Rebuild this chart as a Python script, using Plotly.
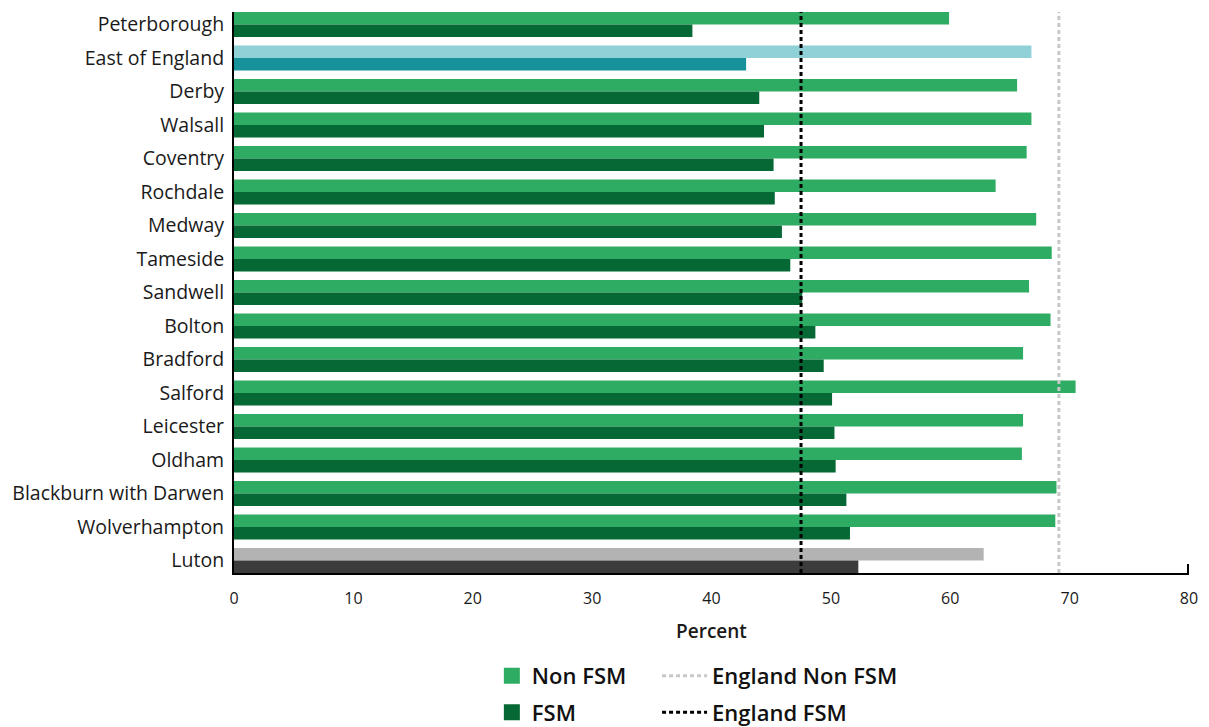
import plotly.graph_objects as go

categories = ["Peterborough", "East of England", "Derby", "Walsall", "Coventry", "Rochdale",
              "Medway", "Tameside", "Sandwell", "Bolton", "Bradford", "Salford", "Leicester",
              "Oldham", "Blackburn with Darwen", "Wolverhampton", "Luton"]
non_fsm = [59.9, 66.8, 65.6, 66.8, 66.4, 63.8, 67.2, 68.5, 66.6, 68.4, 66.1, 70.5, 66.1,
           66.0, 68.9, 68.8, 62.8]
fsm = [38.4, 42.9, 44.0, 44.4, 45.2, 45.3, 45.9, 46.6, 47.6, 48.7, 49.4, 50.1, 50.3,
       50.4, 51.3, 51.6, 52.3]
england_non_fsm = 69.1
england_fsm = 47.5
x_ticks = [0, 10, 20, 30, 40, 50, 60, 70, 80]

C_NON = "#2FAC63"
C_FSM = "#056835"
highlight_non = {"East of England": "#90D1D8", "Luton": "#B3B3B3"}
highlight_fsm = {"East of England": "#17919A", "Luton": "#3C3C3C"}

non_colors = [highlight_non.get(c, C_NON) for c in categories]
fsm_colors = [highlight_fsm.get(c, C_FSM) for c in categories]

FONT = "Open Sans"
TXT = "#1a1a1a"
fig = go.Figure()
fig.add_trace(go.Bar(y=categories, x=non_fsm, orientation="h", name="Non FSM",
                     marker=dict(color=non_colors, line=dict(width=0)), showlegend=False))
fig.add_trace(go.Bar(y=categories, x=fsm, orientation="h", name="FSM",
                     marker=dict(color=fsm_colors, line=dict(width=0)), showlegend=False))

# England reference lines on an overlay axis
fig.add_trace(go.Scatter(x=[england_non_fsm, england_non_fsm], y=[0, 1], yaxis="y2",
                         mode="lines", name="England Non FSM",
                         line=dict(color="#C8C8C8", width=3, dash="4px,3px"),
                         legend="legend2", legendgroup="a"))
fig.add_trace(go.Scatter(x=[england_fsm, england_fsm], y=[0, 1], yaxis="y2",
                         mode="lines", name="England FSM",
                         line=dict(color="#000000", width=3, dash="4px,3px"),
                         legend="legend2", legendgroup="b"))

# legend swatches
fig.add_trace(go.Scatter(x=[None], y=[None], mode="markers", name="Non FSM",
                         marker=dict(symbol="square", size=22, color=C_NON),
                         legend="legend", legendgroup="c"))
fig.add_trace(go.Scatter(x=[None], y=[None], mode="markers", name="FSM",
                         marker=dict(symbol="square", size=22, color=C_FSM),
                         legend="legend", legendgroup="d"))

legend_font = dict(size=22, family=FONT, color="#111", weight=600)
fig.update_layout(
    width=1209, height=727,
    margin=dict(l=234, r=20, t=12, b=154, autoexpand=False),
    paper_bgcolor="white", plot_bgcolor="white",
    barmode="group", bargap=0.254, bargroupgap=0,
    font=dict(family=FONT, color=TXT, size=16),
    xaxis=dict(range=[0, 80], tickvals=x_ticks,
               showgrid=False, zeroline=False, showline=True, linecolor="black", linewidth=2,
               ticks="", ticklabelstandoff=10, tickfont=dict(size=16, family=FONT, color=TXT),
               minor=dict(tickvals=[79.93], ticks="inside", ticklen=9, tickwidth=2,
                          tickcolor="black", showgrid=False),
               title=dict(text="Percent", font=dict(size=19, family=FONT, color=TXT, weight=600),
                          standoff=16)),
    yaxis=dict(categoryorder="array", categoryarray=categories,
               range=[16.373, -0.373], showgrid=False, zeroline=False,
               showline=True, linecolor="black", linewidth=2, ticks="",
               ticklabelstandoff=4,
               tickfont=dict(size=19.5, family=FONT, color=TXT)),
    yaxis2=dict(overlaying="y", range=[0, 1], visible=False, fixedrange=True),
    legend=dict(x=0.27, y=-0.146, xanchor="left", yanchor="top", orientation="v",
                font=legend_font, tracegroupgap=5,
                itemsizing="trace", bgcolor="rgba(0,0,0,0)"),
    legend2=dict(x=0.443, y=-0.146, xanchor="left", yanchor="top", orientation="v",
                 font=legend_font, tracegroupgap=5,
                 itemwidth=45, bgcolor="rgba(0,0,0,0)"),
)

fig.write_html("out.html", config={"displayModeBar": False},
               post_script="document.body.style.margin='0';")
